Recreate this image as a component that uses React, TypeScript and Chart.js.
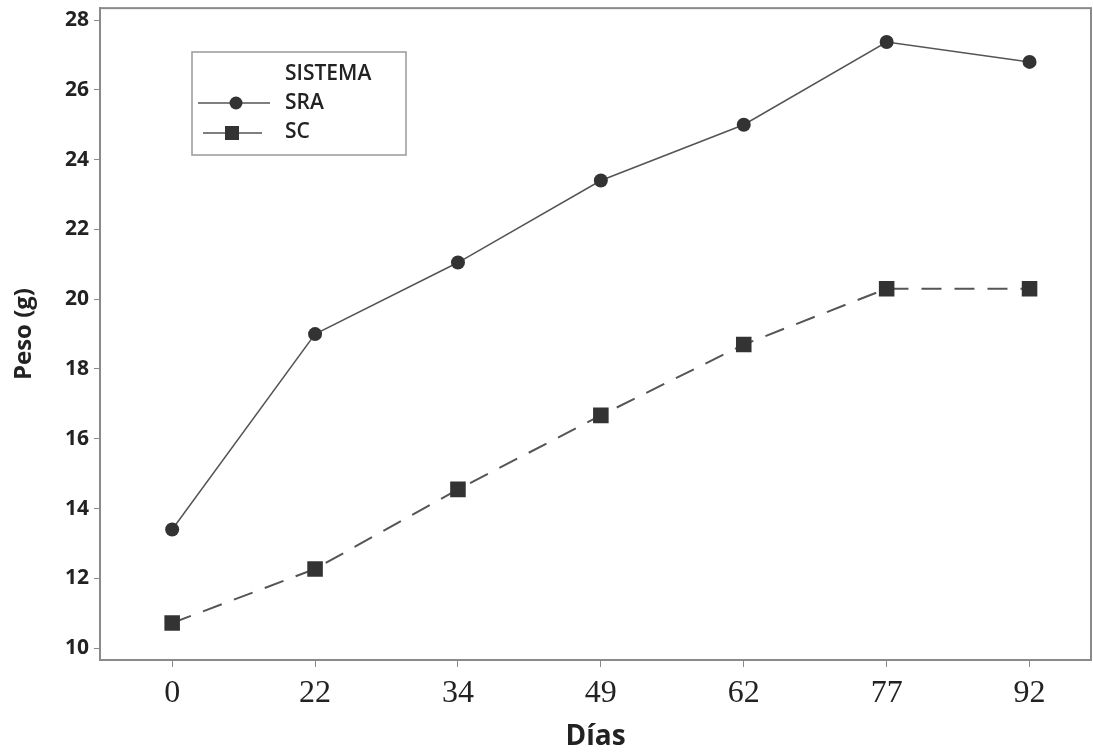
import React, { useEffect, useRef } from "react";
import { Chart, registerables } from "chart.js";

Chart.register(...registerables);

const dias = ["0", "22", "34", "49", "62", "77", "92"];
const sraValues = [13.4, 19.0, 21.05, 23.4, 25.0, 27.37, 26.8];
const scValues = [10.72, 12.27, 14.55, 16.67, 18.7, 20.3, 20.3];
const seriesNames = ["SRA", "SC"];
const legendTitle = "SISTEMA";
const yTicks = [10, 12, 14, 16, 18, 20, 22, 24, 26, 28];
const xTitle = "Días";
const yTitle = "Peso (g)";

const FRAME = "#8a8a8a";
const LINE = "#555555";
const MARK = "#333333";

const framePlugin = {
  id: "framePlugin",
  afterDraw(chart: any) {
    const { ctx, chartArea } = chart;
    ctx.save();
    ctx.strokeStyle = FRAME;
    ctx.lineWidth = 2;
    ctx.strokeRect(chartArea.left, chartArea.top, chartArea.right - chartArea.left, chartArea.bottom - chartArea.top);

    // legend box
    const bx = 192, by = 52, bw = 214, bh = 103;
    ctx.strokeStyle = "#999999";
    ctx.lineWidth = 1.5;
    ctx.strokeRect(bx, by, bw, bh);
    ctx.fillStyle = "#222222";
    ctx.font = "600 21px 'Open Sans'";
    ctx.textBaseline = "middle";
    ctx.textAlign = "left";
    ctx.fillText(legendTitle, 285, 74);
    ctx.fillText(seriesNames[0], 285, 103);
    ctx.fillText(seriesNames[1], 285, 132);
    // SRA sample
    ctx.strokeStyle = LINE;
    ctx.lineWidth = 1.5;
    ctx.beginPath();
    ctx.moveTo(198, 103);
    ctx.lineTo(270, 103);
    ctx.stroke();
    ctx.fillStyle = MARK;
    ctx.beginPath();
    ctx.arc(236, 103, 6.5, 0, Math.PI * 2);
    ctx.fill();
    // SC sample
    ctx.beginPath();
    ctx.moveTo(203, 133);
    ctx.lineTo(262, 133);
    ctx.stroke();
    ctx.fillRect(225, 126, 14, 14);
    ctx.restore();
  },
};

export default function App() {
  const ref = useRef<HTMLCanvasElement>(null);
  useEffect(() => {
    document.body.style.margin = "0";
    const chart = new Chart(ref.current as HTMLCanvasElement, {
      type: "line",
      data: {
        datasets: [
          {
            label: seriesNames[0],
            data: sraValues.map((v, i) => ({ x: i, y: v })),
            borderColor: LINE,
            borderWidth: 1.5,
            pointStyle: "circle",
            pointRadius: 7,
            pointBackgroundColor: MARK,
            pointBorderColor: MARK,
            pointBorderWidth: 0,
            tension: 0,
          },
          {
            label: seriesNames[1],
            data: scValues.map((v, i) => ({ x: i, y: v })),
            borderColor: LINE,
            borderWidth: 2,
            borderDash: [20, 13],
            pointStyle: "rect",
            pointRadius: 11,
            pointBackgroundColor: MARK,
            pointBorderColor: MARK,
            pointBorderWidth: 0,
            tension: 0,
          },
        ],
      },
      options: {
        animation: false,
        responsive: false,
        layout: { autoPadding: false, padding: { left: 0, top: 8, right: 2, bottom: 0 } },
        plugins: { legend: { display: false }, tooltip: { enabled: false } },
        scales: {
          x: {
            type: "linear",
            min: -0.505,
            max: 6.43,
            afterBuildTicks: (scale: any) => {
              scale.ticks = dias.map((_, i) => ({ value: i }));
            },
            afterFit: (scale: any) => {
              scale.height = 92;
            },
            ticks: {
              callback: (v: any) => dias[v] ?? "",
              font: { family: "'Liberation Serif'", size: 32 },
              color: "#222222",
              padding: 7,
              maxRotation: 0,
            },
            grid: { display: true, drawOnChartArea: false, drawTicks: true, tickLength: 7, color: FRAME },
            border: { display: true, color: FRAME, width: 2 },
            title: {
              display: true,
              text: xTitle,
              font: { family: "'Open Sans'", size: 28, weight: "bold" },
              color: "#222222",
              padding: { top: 0, bottom: -2 },
            },
          },
          y: {
            type: "linear",
            min: 9.66,
            max: 28.34,
            afterBuildTicks: (scale: any) => {
              scale.ticks = yTicks.map((v) => ({ value: v }));
            },
            afterFit: (scale: any) => {
              scale.width = 100;
            },
            ticks: {
              font: { family: "'Open Sans'", size: 21, weight: "bold", lineHeight: 0.3 },
              color: "#222222",
              padding: 5,
            },
            grid: { display: true, drawOnChartArea: false, drawTicks: true, tickLength: 6, color: FRAME },
            border: { display: true, color: FRAME, width: 2 },
            title: {
              display: true,
              text: yTitle,
              font: { family: "'Open Sans'", size: 24, weight: "bold" },
              color: "#222222",
              padding: { top: 10, bottom: 0 },
            },
          },
        },
      },
      plugins: [framePlugin],
    } as any);
    return () => chart.destroy();
  }, []);
  return (
    <div style={{ width: 1093, height: 752 }}>
      <canvas ref={ref} width={1093} height={752} style={{ display: "block" }} />
    </div>
  );
}
